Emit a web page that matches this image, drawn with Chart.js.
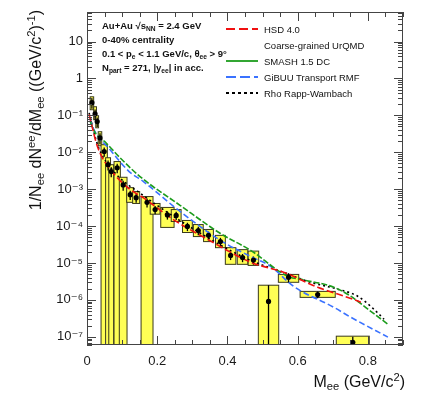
<!DOCTYPE html>
<html>
<head>
<meta charset="utf-8">
<script src="https://cdn.jsdelivr.net/npm/chart.js@4.4.1/dist/chart.umd.min.js"></script>
<style>
  html, body { margin: 0; padding: 0; background: #fff; }
  #wrap { position: relative; width: 429px; height: 393px; font-family: "Liberation Sans", Arial, sans-serif; color: #111; }
  #chart { position: absolute; left: 0; top: 0; }
  sub { font-size: 70%; vertical-align: -0.3em; line-height: 0; }
  sup { font-size: 70%; vertical-align: 0.5em; line-height: 0; }
  #ytitle { position: absolute; left: 27px; top: 228px; width: 218px; text-align: right; transform-origin: 0 0; transform: rotate(-90deg); font-size: 16px; line-height: 18px; white-space: nowrap; }
  #xtitle { position: absolute; right: 24px; top: 373px; font-size: 16px; line-height: 18px; white-space: nowrap; }
  #info { position: absolute; left: 102px; top: 19px; font-size: 9.5px; line-height: 14px; font-weight: bold; white-space: nowrap; }
  #legend { position: absolute; left: 226px; top: 21px; font-size: 9.5px; white-space: nowrap; }
  #legend .row { height: 16px; display: flex; align-items: center; }
  #legend svg { width: 32px; height: 6px; margin-right: 6px; }
</style>
</head>
<body>
<div id="wrap">
  <canvas id="chart" width="429" height="393"></canvas>
  <div id="ytitle">1/N<sub>ee</sub> dN<sup>ee</sup>/dM<sub>ee</sub> ((GeV/c<sup>2</sup>)<sup>-1</sup>)</div>
  <div id="xtitle">M<sub>ee</sub> (GeV/c<sup>2</sup>)</div>
  <div id="info">
    <div>Au+Au &radic;s<sub>NN</sub> = 2.4 GeV</div>
    <div>0-40% centrality</div>
    <div>0.1 &lt; p<sub>e</sub> &lt; 1.1 GeV/c, &theta;<sub>ee</sub> &gt; 9&deg;</div>
    <div>N<sub>part</sub> = 271, |y<sub>ee</sub>| in acc.</div>
  </div>
  <div id="legend"></div>
</div>
<script>
// measured dielectron yield
const massPts = [0.014, 0.023, 0.029, 0.037, 0.049, 0.060, 0.069, 0.086, 0.103, 0.123, 0.140, 0.171, 0.194,
  0.229, 0.254, 0.286, 0.317, 0.346, 0.380, 0.409, 0.443, 0.474, 0.517, 0.574, 0.657, 0.757];
const yieldPts = [0.22, 0.11, 0.068, 0.0245, 0.0105, 0.0046, 0.0030, 0.0038, 0.0013, 7.1e-4, 5.9e-4, 4.4e-4, 2.8e-4,
  2.0e-4, 1.95e-4, 9.8e-5, 7.6e-5, 5.6e-5, 3.8e-5, 1.6e-5, 1.4e-5, 1.2e-5, 9.1e-7, 4.1e-6, 1.4e-6, 7.1e-8];
const statErr = [0.07, 0.035, 0.02, 0.008, 0.003, 0.0014, 0.0009, 0.0011, 0.0004, 2e-4, 1.6e-4, 1.2e-4, 7e-5,
  5e-5, 5e-5, 2.5e-5, 2e-5, 1.5e-5, 1e-5, 4e-6, 3.5e-6, 3e-6, 1.6e-6, 1.2e-6, 3e-7, 3e-8];
// systematic boxes (0 = no lower bound)
const sysLow = [0.142, 0.076, 0.046, 0.015, 0, 0, 0, 0, 0, 4.4e-4, 4.1e-4, 0, 2.1e-4,
  9.2e-5, 1.33e-4, 6.7e-5, 5.2e-5, 3.8e-5, 2.6e-5, 9.2e-6, 9.2e-6, 8.6e-6, 0, 3.0e-6, 1.17e-6, 0];
const sysHigh = [0.318, 0.171, 0.0975, 0.036, 0.016, 0.0071, 0.0046, 0.0056, 0.0021, 1.1e-3, 8.6e-4, 6.3e-4, 4.1e-4,
  3.2e-4, 2.8e-4, 1.42e-4, 1.1e-4, 8.1e-5, 5.6e-5, 2.6e-5, 2.3e-5, 2.1e-5, 2.5e-6, 4.9e-6, 1.7e-6, 1.04e-7];
const binHalf = [0.005, 0.004, 0.004, 0.005, 0.009, 0.007, 0.007, 0.009, 0.011, 0.01, 0.01, 0.017, 0.014,
  0.019, 0.014, 0.014, 0.014, 0.014, 0.014, 0.015, 0.015, 0.015, 0.029, 0.029, 0.05, 0.047];

// model curves
const hsdMass = [0.006, 0.031, 0.074, 0.123, 0.16, 0.246, 0.343, 0.466, 0.56, 0.657, 0.743, 0.78];
const hsdYield = [0.105, 0.0132, 0.0028, 9.8e-4, 5.9e-4, 1.5e-4, 4.4e-5, 1.05e-5, 5.6e-6, 2.2e-6, 1.17e-6, 8.7e-7];
const smashMass = [0.009, 0.023, 0.054, 0.094, 0.151, 0.266, 0.38, 0.466, 0.571, 0.609, 0.703, 0.751, 0.80, 0.857];
const smashYield = [0.068, 0.034, 0.018, 0.0071, 0.0022, 3.6e-4, 6.3e-5, 2.2e-5, 4.4e-6, 3.6e-6, 2.2e-6, 1.26e-6, 5.6e-7, 2.2e-7];
const transpMass = [0.009, 0.017, 0.066, 0.12, 0.16, 0.266, 0.38, 0.466, 0.523, 0.589, 0.703, 0.751, 0.857];
const transpYield = [0.078, 0.046, 0.0117, 0.0030, 0.00162, 2.45e-4, 4.1e-5, 1.5e-5, 8.1e-6, 2.3e-6, 6.3e-7, 3.4e-7, 9.8e-8];
const rappMass = [0.006, 0.031, 0.074, 0.16, 0.343, 0.466, 0.56, 0.637, 0.714, 0.771, 0.817, 0.846];
const rappYield = [0.117, 0.0151, 0.0032, 6.8e-4, 4.9e-5, 1.17e-5, 5.6e-6, 3.0e-6, 1.95e-6, 1.26e-6, 5.6e-7, 3.0e-7];

const legendNames = ["HSD 4.0", "Coarse-grained UrQMD", "SMASH 1.5 DC", "GiBUU Transport RMF", "Rho Rapp-Wambach"];

const xTickVals = [0, 0.2, 0.4, 0.6, 0.8];
const yTickVals = [1e-7, 1e-6, 1e-5, 1e-4, 1e-3, 1e-2, 1e-1, 1, 10];

const supDigits = { "-": "\u207B", "0": "\u2070", "1": "\u00B9", "2": "\u00B2", "3": "\u00B3", "4": "\u2074", "5": "\u2075", "6": "\u2076", "7": "\u2077" };
const powLabel = (v) => {
  const e = Math.round(Math.log10(v));
  if (e === 0) return "1";
  if (e === 1) return "10";
  return "10" + String(e).split("").map(c => supDigits[c]).join("");
};

const pts = (xs, ys) => xs.map((x, i) => ({ x: x, y: ys[i] }));

// yellow systematic boxes and stat. error bars
const sysBoxes = {
  id: "sysBoxes",
  beforeDatasetsDraw(chart) {
    const { ctx, chartArea: a, scales: { x, y } } = chart;
    ctx.save();
    ctx.beginPath();
    ctx.rect(a.left, a.top, a.width, a.height);
    ctx.clip();
    massPts.forEach((m, i) => {
      const x1 = x.getPixelForValue(m - binHalf[i]);
      const x2 = x.getPixelForValue(m + binHalf[i]);
      const yt = y.getPixelForValue(sysHigh[i]);
      const yb = sysLow[i] > 0 ? y.getPixelForValue(sysLow[i]) : a.bottom + 3;
      ctx.fillStyle = "#ffff55";
      ctx.fillRect(x1, yt, x2 - x1, yb - yt);
      ctx.strokeStyle = "#3a3a1a";
      ctx.lineWidth = 1;
      ctx.strokeRect(x1, yt, x2 - x1, yb - yt);
    });
    ctx.strokeStyle = "#000";
    ctx.lineWidth = 1.3;
    massPts.forEach((m, i) => {
      const px = x.getPixelForValue(m);
      const lo = yieldPts[i] - statErr[i];
      const y1 = y.getPixelForValue(yieldPts[i] + statErr[i]);
      const y2 = lo > 0 ? y.getPixelForValue(lo) : a.bottom + 3;
      ctx.beginPath();
      ctx.moveTo(px, y1);
      ctx.lineTo(px, y2);
      ctx.stroke();
    });
    ctx.restore();
  }
};

// frame with inward ticks on all four sides
const frameTicks = {
  id: "frameTicks",
  afterDraw(chart) {
    const { ctx, chartArea: a, scales: { x, y } } = chart;
    const seg = (x1, y1, x2, y2) => { ctx.beginPath(); ctx.moveTo(x1, y1); ctx.lineTo(x2, y2); ctx.stroke(); };
    ctx.save();
    ctx.strokeStyle = "#444";
    ctx.lineWidth = 1;
    ctx.strokeRect(a.left + 0.5, a.top + 0.5, a.width - 1, a.height - 1);
    for (let e = -8; e <= 2; e++) {
      for (let k = 1; k <= 9; k++) {
        const v = k * Math.pow(10, e);
        if (v < y.min || v > y.max) continue;
        const py = Math.round(y.getPixelForValue(v)) + 0.5;
        const len = k === 1 ? 9 : 5;
        seg(a.left, py, a.left + len, py);
        seg(a.right, py, a.right - len, py);
      }
    }
    for (let i = 0; i <= 18; i++) {
      const v = i * 0.05;
      const px = Math.round(x.getPixelForValue(v)) + 0.5;
      const len = i % 4 === 0 ? 9 : 5;
      seg(px, a.bottom, px, a.bottom - len);
      seg(px, a.top, px, a.top + len);
    }
    ctx.restore();
  }
};

Chart.defaults.font.family = "'Liberation Sans', 'DejaVu Sans', sans-serif";
Chart.defaults.color = "#1a1a1a";

const curve = (data, color, dash) => ({
  type: "line",
  data: data,
  borderColor: color,
  borderWidth: 1.6,
  borderDash: dash,
  pointRadius: 0,
  fill: false,
  cubicInterpolationMode: "monotone",
  order: 1
});

new Chart(document.getElementById("chart"), {
  type: "scatter",
  data: {
    datasets: [
      {
        data: pts(massPts, yieldPts),
        pointRadius: 2.6,
        pointBackgroundColor: "#000",
        pointBorderWidth: 0,
        order: 0
      },
      curve(pts(hsdMass, hsdYield), "#f01010", [7, 3]),
      curve(pts(smashMass, smashYield), "#1c9c1c", [6, 2]),
      curve(pts(transpMass, transpYield), "#3a72ff", [6, 3]),
      curve(pts(rappMass, rappYield), "#000", [2, 3])
    ]
  },
  options: {
    responsive: false,
    animation: false,
    devicePixelRatio: 1,
    layout: { padding: { left: 0, right: 26, top: 12, bottom: 0 } },
    plugins: { legend: { display: false }, tooltip: { enabled: false } },
    scales: {
      x: {
        type: "linear",
        min: 0,
        max: 0.9,
        grid: { display: false, drawTicks: false },
        border: { display: false },
        afterBuildTicks: (s) => { s.ticks = xTickVals.map(v => ({ value: v })); },
        afterFit: (s) => { s.height = 48; },
        ticks: {
          padding: 9,
          font: { size: 13 },
          maxRotation: 0,
          callback: (v) => (v === 0 ? "0" : v.toFixed(1))
        }
      },
      y: {
        type: "logarithmic",
        min: Math.pow(10, -7.2),
        max: Math.pow(10, 1.8),
        grid: { display: false, drawTicks: false },
        border: { display: false },
        afterBuildTicks: (s) => { s.ticks = yTickVals.map(v => ({ value: v })); },
        afterFit: (s) => { s.width = 87; },
        ticks: {
          padding: 4,
          font: { size: 13 },
          callback: (v) => powLabel(v)
        }
      }
    }
  },
  plugins: [sysBoxes, frameTicks]
});

// legend block
const legendStyles = [
  { color: "#f01010", dash: "9 4" },
  null,
  { color: "#1c9c1c", dash: "" },
  { color: "#3a72ff", dash: "10 4" },
  { color: "#000", dash: "3 3" }
];
const legend = document.getElementById("legend");
legendNames.forEach((name, i) => {
  const st = legendStyles[i];
  const line = st ? `<line x1="0" y1="3" x2="32" y2="3" stroke="${st.color}" stroke-width="1.8" stroke-dasharray="${st.dash}"/>` : "";
  legend.innerHTML += `<div class="row"><svg viewBox="0 0 32 6">${line}</svg><span>${name}</span></div>`;
});
</script>
</body>
</html>
